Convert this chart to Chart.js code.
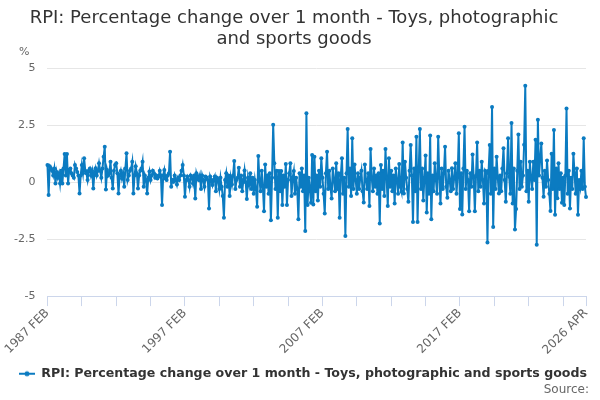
<!DOCTYPE html>
<html>
<head>
<meta charset="utf-8">
<script src="https://cdn.jsdelivr.net/npm/chart.js@4.4.1/dist/chart.umd.min.js"></script>
<style>
  html, body { margin: 0; padding: 0; background: #ffffff; }
  #wrap { width: 600px; height: 400px; }
</style>
</head>
<body>
<div id="wrap"><canvas id="grafico" width="600" height="400"></canvas></div>
<script>
// serie mensal, de 1987 FEB ate 2026 APR (valores aproximados)
const startYear = 1987;
const startMonth = 1; // FEB
const monthNames = ["JAN", "FEB", "MAR", "APR", "MAY", "JUN", "JUL", "AUG", "SEP", "OCT", "NOV", "DEC"];

const values = [
  /* 1987 */ 0.76, -0.56, 0.7, 0.61, 0.5, 0.3, 0.6, -0.05, 0.45, 0.2, 0.39,
  /* 1988 */ -0.05, 0.5, -0.05, 0.6, 1.24, 0.3, 1.24, -0.05, 0.55, 0.6, 0.4, 0.3,
  /* 1989 */ 0.2, 0.76, 0.6, 0.45, 0.3, -0.49, 0.3, 0.76, 0.4, 1.05, 0.5, 0.39,
  /* 1990 */ 0.1, 0.5, 0.6, 0.3, 0.5, -0.27, 0.4, 0.61, 0.3, 0.5, 0.83, 0.5,
  /* 1991 */ 0.2, 0.6, 1.12, 1.56, -0.32, 0.54, 0.3, 0.4, 0.9, 0.2, -0.27, 0.5,
  /* 1992 */ 0.76, 0.83, 0.4, -0.49, 0.3, 0.5, 0.17, 0.4, -0.2, 0.6, 1.27, 0.1,
  /* 1993 */ 0.3, 0.5, 0.6, 0.9, -0.49, 0.3, 0.7, 0.4, -0.27, 0.3, 0.5, 0.6,
  /* 1994 */ 0.9, -0.2, 0.3, 0.1, -0.49, 0.2, 0.47, 0.1, 0.3, 0.5, 0.39, 0.2,
  /* 1995 */ 0.3, 0.17, 0.25, 0.5, 0.3, -1.0, 0.3, 0.54, 0.17, 0.1, 0.3, 0.4,
  /* 1996 */ 1.34, -0.2, 0.1, 0.02, 0.3, 0.1, -0.1, 0.2, 0.1, 0.3, 0.5, 0.76,
  /* 1997 */ 0.3, -0.64, 0.1, 0.25, 0.1, -0.2, 0.3, 0.2, -0.05, 0.3, -0.71, 0.39,
  /* 1998 */ 0.2, 0.1, 0.3, -0.3, 0.3, 0.1, -0.2, 0.25, 0.2, 0.1, -1.15, 0.25,
  /* 1999 */ 0.1, -0.12, 0.1, 0.25, -0.4, 0.2, 0.1, -0.3, 0.2, -0.2, -0.6, -1.56,
  /* 2000 */ 0.1, 0.4, -0.2, 0.3, -0.6, 0.2, -0.1, 0.3, 0.93, -0.3, 0.1, 0.2,
  /* 2001 */ 0.64, -0.2, 0.3, -0.4, 0.1, 0.52, 0.0, -0.74, 0.2, -0.1, 0.4, -0.3,
  /* 2002 */ 0.2, -0.5, 0.1, -0.3, -1.08, 1.15, 0.1, -0.4, 0.5, -0.2, -1.27, 0.78,
  /* 2003 */ -0.2, 0.3, -0.5, 0.4, -1.67, 0.2, 2.52, 0.83, -0.3, 0.5, -1.56, 0.49,
  /* 2004 */ -0.4, 0.49, -1.0, 0.3, -0.2, 0.8, -1.0, 0.1, 0.4, 0.83, -0.6, 0.2,
  /* 2005 */ 0.49, -0.5, 0.2, -0.3, -1.62, 0.4, -0.2, 0.6, -0.4, 0.3, -2.14, 3.03,
  /* 2006 */ -1.0, 0.2, -0.3, -0.9, 1.2, -0.98, 1.12, -0.4, 0.3, -0.8, 0.5, -0.2,
  /* 2007 */ 1.05, 0.2, -0.5, -1.37, 0.4, 1.34, -0.3, 0.5, -0.2, -0.71, 0.6, 0.1,
  /* 2008 */ -0.4, 0.83, -0.3, 0.4, -1.56, 0.3, 1.05, -0.5, 0.2, -2.36, 0.4, 2.34,
  /* 2009 */ -0.2, 0.6, -0.6, 1.93, -0.3, 0.78, 0.1, -0.5, 0.4, -0.3, 0.2, 0.5,
  /* 2010 */ -0.4, -0.89, 0.78, 0.1, -0.3, 0.4, -1.04, 1.46, 0.2, -0.4, 0.6, -0.2,
  /* 2011 */ 0.3, -0.5, 0.4, -1.81, 0.76, -0.3, 0.5, -0.6, 1.46, 0.2, -1.04, 1.05,
  /* 2012 */ -0.2, 0.5, -0.4, 0.3, -0.93, 0.6, 0.1, -0.5, 0.8, -0.2, -0.42, 1.75,
  /* 2013 */ -0.49, 0.9, 0.2, -0.3, -0.86, 0.5, 1.64, 0.3, -1.74, 0.6, -0.4, 2.0,
  /* 2014 */ -1.74, 0.5, 2.34, -0.3, 0.6, -0.8, 0.2, 1.17, -1.33, 0.4, -0.5, 2.05,
  /* 2015 */ -1.62, 0.3, -0.4, 0.83, 0.1, -0.5, 2.0, 0.2, -0.93, 0.6, -0.3, 0.4,
  /* 2016 */ 1.56, -0.2, -0.68, 0.5, 0.1, -0.4, 0.61, -0.3, 0.2, 0.83, -0.5, 0.3,
  /* 2017 */ 2.15, -1.18, 0.4, -1.42, 0.6, 2.44, -0.3, 0.5, 0.1, -1.27, 0.4, -0.2,
  /* 2018 */ 1.22, 0.2, -1.27, 0.3, 1.75, -0.4, 0.5, -0.2, 0.9, 0.1, -0.93, 0.5,
  /* 2019 */ 0.4, -2.65, 0.5, 1.64, -0.5, 3.3, -1.96, 0.6, -0.3, 1.12, 0.2, -0.49,
  /* 2020 */ 0.3, -0.4, 0.6, 1.49, 0.1, -0.86, 0.4, 1.93, 0.24, -0.5, 2.6, -0.93,
  /* 2021 */ 0.6, -2.08, -1.17, 0.5, 2.1, -0.3, 0.9, -0.2, 0.3, 1.65, 4.24, -0.4,
  /* 2022 */ 0.5, -0.86, 0.9, 0.2, -0.3, 0.9, 0.1, 1.87, -2.75, 2.75, 0.3, 1.0,
  /* 2023 */ 1.7, 0.2, -0.64, 0.5, -0.2, 0.95, 0.1, -0.5, -1.26, 1.25, -0.3, 2.3,
  /* 2024 */ -1.43, 0.6, -0.7, 0.83, -0.3, 0.4, -0.9, 0.2, -1.0, 0.3, 3.24, -0.5,
  /* 2025 */ 0.5, -1.15, 0.2, -0.3, 1.25, 0.4, -0.5, 0.6, -1.43, 0.1, -0.2, 0.5,
  /* 2026 */ -0.3, 1.93, -0.2, -0.65
];

const yTicks = [-5, -2.5, 0, 2.5, 5];
const serieNome = "RPI: Percentage change over 1 month - Toys, photographic and sports goods";
const corLinha = "#0b7bc1";

// rotulos dos meses: "1987 FEB", "1987 MAR", ...
let categorias = [];
for (let i = 0; i < values.length; i++) {
  let m = startMonth + i;
  let ano = startYear + Math.floor(m / 12);
  categorias.push(ano + " " + monthNames[m % 12]);
}
const ultimo = categorias.length - 1;

// simbolo da legenda: linha com ponto no meio
let simbolo = document.createElement("canvas");
simbolo.width = 16;
simbolo.height = 8;
let sctx = simbolo.getContext("2d");
sctx.strokeStyle = corLinha;
sctx.lineWidth = 2;
sctx.beginPath();
sctx.moveTo(0, 4);
sctx.lineTo(16, 4);
sctx.stroke();
sctx.fillStyle = corLinha;
sctx.beginPath();
sctx.arc(8, 4, 2.5, 0, Math.PI * 2);
sctx.fill();

const textosExtras = {
  id: "textosExtras",
  afterLayout(chart) {
    // empurra a legenda um pouco para a direita, como no original
    chart.legend.left += 9;
    chart.legend.right += 9;
  },
  afterDraw(chart) {
    let ctx = chart.ctx;
    ctx.save();
    ctx.fillStyle = "#666666";
    ctx.font = "11px 'DejaVu Sans'";
    ctx.textAlign = "left";
    ctx.textBaseline = "middle";
    ctx.fillText("%", 19, 52);
    ctx.font = "12px 'DejaVu Sans'";
    ctx.textAlign = "right";
    ctx.fillText("Source:", 589, 390);
    ctx.restore();
  }
};

new Chart(document.getElementById("grafico"), {
  type: "line",
  data: {
    labels: categorias,
    datasets: [{
      label: serieNome,
      data: values,
      borderColor: corLinha,
      backgroundColor: corLinha,
      borderWidth: 2,
      pointRadius: 2,
      pointBorderWidth: 0,
      tension: 0
    }]
  },
  options: {
    responsive: false,
    animation: false,
    events: [],
    layout: {
      padding: { left: 2, right: 14, top: 4, bottom: 10 }
    },
    scales: {
      x: {
        type: "category",
        grid: {
          drawOnChartArea: false,
          drawTicks: true,
          tickLength: 10,
          color: (c) => (c.index % 30 === 0 || c.index === ultimo) ? "#ccd6eb" : "rgba(0,0,0,0)"
        },
        border: { color: "#ccd6eb" },
        ticks: {
          autoSkip: false,
          minRotation: 45,
          maxRotation: 45,
          padding: 0,
          color: "#666666",
          font: { family: "'DejaVu Sans'", size: 12 },
          callback: (v, i) => (i % 120 === 0 || i === ultimo) ? categorias[i] : ""
        }
      },
      y: {
        min: -5,
        max: 5,
        afterBuildTicks: (axis) => { axis.ticks = yTicks.map(v => ({ value: v })); },
        grid: { color: "#e6e6e6", drawTicks: false },
        border: { display: false },
        ticks: {
          padding: 12,
          color: "#666666",
          font: { family: "'DejaVu Sans'", size: 11 }
        }
      }
    },
    plugins: {
      title: {
        display: true,
        text: ["RPI: Percentage change over 1 month - Toys, photographic", "and sports goods"],
        color: "#333333",
        font: { family: "'DejaVu Sans'", size: 18, weight: "normal", lineHeight: 1.15 },
        padding: { top: 4, bottom: 19 }
      },
      legend: {
        position: "bottom",
        labels: {
          usePointStyle: true,
          pointStyleWidth: 16,
          color: "#333333",
          font: { family: "'DejaVu Sans'", size: 12.6, weight: "bold" },
          generateLabels: () => [{
            text: serieNome,
            pointStyle: simbolo,
            fontColor: "#333333",
            lineWidth: 0,
            strokeStyle: "rgba(0,0,0,0)",
            fillStyle: corLinha,
            datasetIndex: 0
          }]
        }
      },
      tooltip: { enabled: false }
    }
  },
  plugins: [textosExtras]
});
</script>
</body>
</html>
